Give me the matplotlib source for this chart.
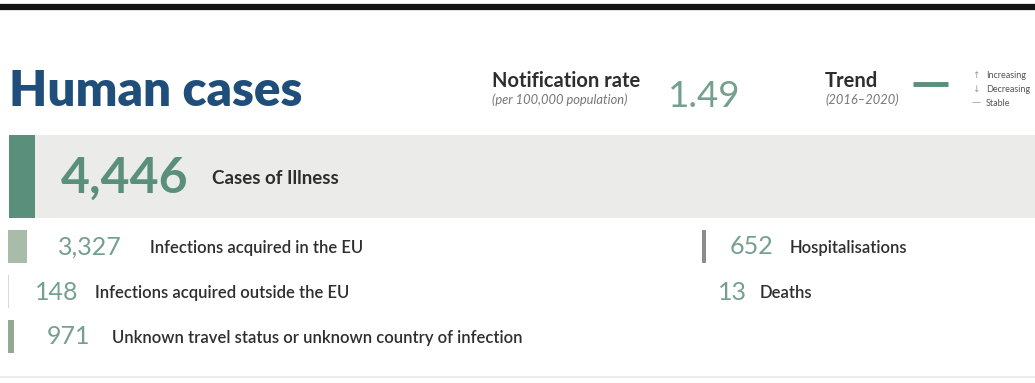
import matplotlib
matplotlib.use("Agg")
import matplotlib.pyplot as plt

# ---- data ----
title = "Human cases"
notification_rate = 1.49
trend_period = "(2016\u20132020)"
total_cases = 4446
total_label = "Cases of Illness"
breakdown_values = [3327, 148, 971]
breakdown_labels = ["Infections acquired in the EU",
                    "Infections acquired outside the EU",
                    "Unknown travel status or unknown country of infection"]
outcome_values = [652, 13]
outcome_labels = ["Hospitalisations", "Deaths"]
legend_items = ["Increasing", "Decreasing", "Stable"]

# ---- styles ----
FONT = "Lato"
BLUE = "#1f4e7a"
GREEN = "#5a8f7c"
LIGHTGREEN = "#74a08f"
DARK = "#2e2e2e"
GREY = "#777777"
BAND = "#ebebe9"

W, H = 1035, 383
fig = plt.figure(figsize=(W / 100, H / 100), dpi=100)
ax = fig.add_axes([0, 0, 1, 1])
ax.set_xlim(0, W)
ax.set_ylim(H, 0)
ax.axis("off")

px_per_case = 26 / total_cases  # bar width scale

# top rule and bottom faint rule
ax.axhline(6.5, color="#141414", lw=4.5)
ax.axhline(377, color="#ececec", lw=1.5)

# title
ax.text(9, 106, title, fontsize=35.5, fontweight="heavy", color=BLUE,
        family=FONT, va="baseline", ha="left")

# notification rate
ax.text(492, 87, "Notification rate", fontsize=14.5, fontweight="bold",
        color=DARK, family=FONT, va="baseline")
ax.text(492, 104, "(per 100,000 population)", fontsize=9.3, style="italic",
        color=GREY, family=FONT, va="baseline")
ax.text(668, 107, f"{notification_rate:.2f}", fontsize=26.5, fontweight="normal",
        color=LIGHTGREEN, family=FONT, va="baseline")

# trend
ax.text(825, 87, "Trend", fontsize=14.5, fontweight="bold", color=DARK,
        family=FONT, va="baseline")
ax.text(825, 104, trend_period, fontsize=9.3, style="italic", color=GREY,
        family=FONT, va="baseline")
ax.plot([913, 948], [84, 84], color=GREEN, lw=3.5, solid_capstyle="butt")

# small legend
legend_symbols = ["\u2191", "\u2193", "\u2014"]
for i, (sym, lab) in enumerate(zip(legend_symbols, legend_items)):
    y = 75 + i * 14
    ax.text(976, y, sym, fontsize=6.5, color="#999999", family="DejaVu Sans",
            va="center", ha="center")
    ax.text(986, y, lab, fontsize=6.5, color="#555555", family=FONT, va="center")

# total cases band
ax.bar(35, 83, width=W - 35, bottom=135, align="edge", color=BAND, lw=0)
ax.bar(9, 83, width=total_cases * px_per_case, bottom=135, align="edge",
       color=GREEN, lw=0)
ax.text(61, 178, f"{total_cases:,}", fontsize=36, fontweight="bold",
        color=GREEN, family=FONT, va="center")
ax.text(212, 178, total_label, fontsize=13.5, fontweight="bold", color=DARK,
        family=FONT, va="center")

# breakdown rows
row_tops = [230, 275, 320]
num_x = [58, 35, 47]
lab_x = [150, 95, 112]
bar_colors = ["#a9bba9", "#d5ddd3", "#93a993"]
for v, lab, top, nx, lx, c in zip(breakdown_values, breakdown_labels,
                                  row_tops, num_x, lab_x, bar_colors):
    ax.bar(8, 33, width=max(v * px_per_case, 1.0), bottom=top, align="edge",
           color=c, lw=0)
    ax.text(nx, top + 17, f"{v:,}", fontsize=18, fontweight="normal",
            color=LIGHTGREEN, family=FONT, va="center")
    ax.text(lx, top + 18, lab, fontsize=12, fontweight="semibold", color=DARK,
            family=FONT, va="center")

# outcomes
out_tops = [230, 275]
out_num_x = [730, 718]
out_lab_x = [790, 760]
for v, lab, top, nx, lx in zip(outcome_values, outcome_labels, out_tops,
                               out_num_x, out_lab_x):
    w = v * px_per_case
    if w >= 0.5:
        ax.bar(702, 33, width=w, bottom=top, align="edge", color="#8c8c8c", lw=0)
    ax.text(nx, top + 17, f"{v:,}", fontsize=18, fontweight="normal",
            color=LIGHTGREEN, family=FONT, va="center")
    ax.text(lx, top + 18, lab, fontsize=12, fontweight="semibold", color=DARK,
            family=FONT, va="center")

fig.savefig("out.png", dpi=100)
